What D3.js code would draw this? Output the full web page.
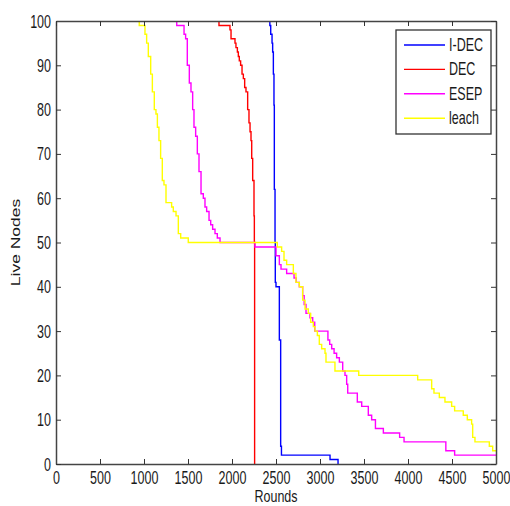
<!DOCTYPE html>
<meta charset="utf-8">
<style>
body { margin: 0; background: #fff; }
text { font-family: "Liberation Sans", Arial, sans-serif; fill: #1a1a1a; }
</style>
<svg width="510" height="506" id="svg"></svg>
<script src="https://d3js.org/d3.v7.min.js"></script>
<script>

// step data (round, live nodes)
var idecRounds = [2400, 2430, 2440, 2455, 2462, 2470, 2477, 2481, 2489, 2492, 2500, 2538, 2553, 2562, 3114, 3205];
var idecNodes  = [100, 99, 97, 95, 93, 88, 81, 62, 50, 41, 40, 28, 4, 2, 1, 0];

var decRounds = [1800, 1852, 1977, 1989, 2034, 2045, 2061, 2072, 2083, 2098, 2114, 2129, 2144, 2159, 2178, 2193, 2205, 2216, 2224, 2235, 2250, 2254, 2257];
var decNodes  = [100, 99, 98, 96, 95, 94, 93, 92, 91, 90, 88, 87, 85, 84, 80, 77, 75, 73, 69, 64, 56, 50, 0];

var esepRounds = [1300, 1372, 1455, 1473, 1492, 1515, 1534, 1553, 1568, 1587, 1606, 1625, 1648, 1674, 1693, 1712, 1739, 1758, 1780, 1807, 1833, 1864, 2261, 2500, 2538, 2557, 2621, 2705, 2730, 2765, 2803, 2820, 2841, 2886, 2917, 2940, 3090, 3110, 3133, 3160, 3189, 3220, 3258, 3284, 3303, 3315, 3424, 3440, 3474, 3549, 3560, 3587, 3630, 3720, 3905, 3955, 4430, 4530, 5000];
var esepNodes  = [100, 99, 97, 96, 90, 86, 84, 80, 76, 74, 70, 66, 61, 60, 58, 57, 55, 54, 53, 52, 51, 50, 49, 47, 45, 44, 43, 42, 41, 40, 38, 36, 34, 33, 32, 30, 28, 27, 26, 25, 24, 23, 21, 20, 18, 16, 14, 14, 13, 11, 11, 10, 8, 7, 6, 5, 3, 2, 2];

var leachRounds = [900, 946, 1011, 1030, 1049, 1076, 1095, 1117, 1136, 1152, 1170, 1189, 1208, 1227, 1250, 1314, 1333, 1364, 1390, 1417, 1503, 2515, 2564, 2591, 2621, 2697, 2727, 2765, 2803, 2830, 2867, 2894, 2924, 2943, 2970, 2992, 3019, 3057, 3068, 3170, 3440, 4110, 4269, 4295, 4356, 4420, 4496, 4530, 4628, 4674, 4723, 4735, 4761, 4924, 4962, 5000];
var leachNodes  = [100, 99, 97, 95, 92, 88, 84, 80, 79, 76, 73, 69, 64, 63, 59, 58, 57, 56, 52, 51, 50, 49, 48, 46, 45, 43, 41, 40, 37, 35, 34, 32, 31, 30, 29, 27, 26, 25, 23, 21, 20, 19, 17, 16, 15, 14, 13, 12, 11, 10, 9, 6, 5, 4, 3, 3];

var seriesNames  = ["I-DEC", "DEC", "ESEP", "leach"];
var seriesColors = ["#0000ff", "#ff0000", "#ff00ff", "#ffff00"];

var xTicks = [0, 500, 1000, 1500, 2000, 2500, 3000, 3500, 4000, 4500, 5000];
var yTicks = [0, 10, 20, 30, 40, 50, 60, 70, 80, 90, 100];

var svg = d3.select("svg");
var margin = {left: 56, top: 21, right: 14, bottom: 42},
    width = 510 - margin.left - margin.right,
    height = 506 - margin.top - margin.bottom;

var stretch = "scale(1,1.4)";

var x = d3.scaleLinear().domain([0, 5000]).range([0, width]);
var y = d3.scaleLinear().domain([0, 100]).range([height, 0]);

var g = svg.append("g").attr("transform", "translate(" + margin.left + "," + margin.top + ")");

g.append("clipPath").attr("id", "clip")
  .append("rect").attr("width", width).attr("height", height);

var series = [
  {rounds: idecRounds, nodes: idecNodes},
  {rounds: decRounds, nodes: decNodes},
  {rounds: esepRounds, nodes: esepNodes},
  {rounds: leachRounds, nodes: leachNodes}
];

var line = d3.line()
    .x(function(d) { return x(d[0]); })
    .y(function(d) { return y(d[1]); })
    .curve(d3.curveStepAfter);

// plot order as in legend, leach ends up on top
series.forEach(function(s, i) {
  g.append("path")
    .datum(d3.zip(s.rounds, s.nodes))
    .attr("clip-path", "url(#clip)")
    .attr("fill", "none")
    .attr("stroke", seriesColors[i])
    .attr("stroke-width", 1.4)
    .attr("d", line);
});

// axes, ticks pointing inward on all four sides
function styleAxis(sel) {
  sel.select(".domain").attr("stroke", "#444").attr("stroke-width", 1.5);
  sel.selectAll(".tick line").attr("stroke", "#333").attr("stroke-width", 1);
}

var xb = g.append("g").attr("transform", "translate(0," + height + ")")
  .call(d3.axisBottom(x).tickValues(xTicks).tickSize(-5).tickSizeOuter(0).tickFormat(d3.format("d")));
xb.call(styleAxis);
xb.selectAll("text")
  .attr("y", null).attr("dy", null)
  .attr("transform", "translate(0,20) " + stretch)
  .style("font-size", "12.5px").style("fill", "#1a1a1a");

var yl = g.append("g")
  .call(d3.axisLeft(y).tickValues(yTicks).tickSize(-5).tickSizeOuter(0));
yl.call(styleAxis);
yl.selectAll("text")
  .attr("x", null).attr("dy", null)
  .attr("transform", "translate(-5,6) " + stretch)
  .style("font-size", "12.5px").style("fill", "#1a1a1a");

var xt = g.append("g")
  .call(d3.axisTop(x).tickValues(xTicks).tickSize(-5).tickSizeOuter(0).tickFormat(""));
xt.call(styleAxis);

var yr = g.append("g").attr("transform", "translate(" + width + ",0)")
  .call(d3.axisRight(y).tickValues(yTicks).tickSize(-5).tickSizeOuter(0).tickFormat(""));
yr.call(styleAxis);

// axis titles
svg.append("text")
  .attr("text-anchor", "middle")
  .attr("transform", "translate(" + (margin.left + width / 2) + ",502.3) scale(1,1.3)")
  .style("font-size", "12.5px")
  .text("Rounds");

svg.append("text")
  .attr("text-anchor", "middle")
  .attr("transform", "translate(20," + (margin.top + height / 2) + ") " + stretch + " rotate(-90)")
  .style("font-size", "12.5px")
  .text("Live Nodes");

// legend
var legend = g.append("g").attr("transform", "translate(" + (width - 100) + ",9)");
legend.append("rect")
  .attr("width", 95).attr("height", 104)
  .attr("fill", "#fff").attr("stroke", "#333").attr("stroke-width", 1.3);

var rows = legend.selectAll(".row")
  .data(seriesNames)
  .enter().append("g")
    .attr("transform", function(d, i) { return "translate(0," + (15 + i * 24.4) + ")"; });

rows.append("line")
  .attr("x1", 8).attr("x2", 49)
  .attr("stroke", function(d, i) { return seriesColors[i]; })
  .attr("stroke-width", 1.4);

rows.append("text")
  .attr("transform", "translate(53,6) " + stretch)
  .style("font-size", "12.5px")
  .text(function(d) { return d; });

</script>
